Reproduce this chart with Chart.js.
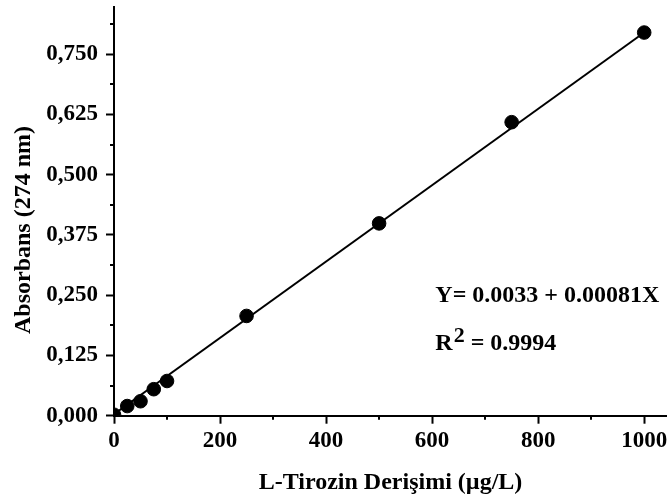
<!DOCTYPE html>
<html>
<head>
<meta charset="utf-8">
<script src="https://cdn.jsdelivr.net/npm/chart.js@4/dist/chart.umd.min.js"></script>
<style>
  html, body { margin: 0; padding: 0; background: #fff; }
  #wrap { width: 667px; height: 497px; }
</style>
</head>
<body>
<div id="wrap"><canvas id="c" width="667" height="497"></canvas></div>
<script>
// Data
const concentrations = [0, 25, 50, 75, 100, 250, 500, 750, 1000];
const absorbances   = [0.002, 0.020, 0.030, 0.055, 0.072, 0.207, 0.399, 0.609, 0.795];
const fitLineX = [0, 1000];
const fitLineY = [0.003, 0.795];
const equationText = "Y= 0.0033 + 0.00081X";
const r2Label = "R";
const r2Sup = "2";
const r2Value = " = 0.9994";
const xTitle = "L-Tirozin Derişimi (µg/L)";
const yTitle = "Absorbans (274 nm)";

const FONT = '"Liberation Serif", "Times New Roman", serif';

const scatterData = concentrations.map((x, i) => ({ x: x, y: absorbances[i] }));
const lineData = fitLineX.map((x, i) => ({ x: x, y: fitLineY[i] }));

function isMultiple(v, step) {
  const r = v / step;
  return Math.abs(r - Math.round(r)) < 1e-6;
}

const extras = {
  id: 'extras',
  afterDraw(chart) {
    const ctx = chart.ctx;
    const xs = chart.scales.x, ys = chart.scales.y;
    ctx.save();
    // minor ticks
    ctx.strokeStyle = '#000';
    ctx.lineWidth = 2;
    ctx.beginPath();
    xs.ticks.forEach(t => {
      if (!isMultiple(t.value, 200)) {
        const px = Math.round(xs.getPixelForValue(t.value));
        ctx.moveTo(px, ys.bottom);
        ctx.lineTo(px, ys.bottom + 4);
      }
    });
    ys.ticks.forEach(t => {
      if (!isMultiple(t.value, 0.125)) {
        const py = Math.round(ys.getPixelForValue(t.value));
        ctx.moveTo(xs.left, py);
        ctx.lineTo(xs.left - 4, py);
      }
    });
    ctx.stroke();

    // y axis title (rotated)
    ctx.fillStyle = '#000';
    ctx.font = 'bold 24px ' + FONT;
    ctx.textAlign = 'center';
    ctx.textBaseline = 'middle';
    ctx.save();
    ctx.translate(24, 230);
    ctx.rotate(-Math.PI / 2);
    ctx.fillText(yTitle, 0, 0);
    ctx.restore();

    // Equation annotation
    const ex = xs.getPixelForValue(606);
    const ey1 = ys.getPixelForValue(0.236);
    const ey2 = ey1 + 48;
    ctx.textBaseline = 'alphabetic';
    ctx.textAlign = 'left';
    ctx.font = 'bold 24px ' + FONT;
    ctx.fillText(equationText, ex, ey1);
    ctx.fillText(r2Label, ex, ey2);
    const rw = ctx.measureText(r2Label).width;
    ctx.font = 'bold 22px ' + FONT;
    ctx.fillText(r2Sup, ex + rw + 1, ey2 - 8);
    const sw = ctx.measureText(r2Sup).width;
    ctx.font = 'bold 24px ' + FONT;
    ctx.fillText(r2Value, ex + rw + 1 + sw, ey2);
    ctx.restore();
  }
};

new Chart(document.getElementById('c'), {
  type: 'scatter',
  data: {
    datasets: [
      {
        type: 'line',
        data: lineData,
        borderColor: '#000',
        borderWidth: 2,
        pointRadius: 0,
        fill: false,
        order: 2
      },
      {
        type: 'scatter',
        data: scatterData,
        backgroundColor: '#000',
        borderColor: '#000',
        pointRadius: 6.8,
        pointHoverRadius: 6.8,
        clip: 0,
        order: 1
      }
    ]
  },
  options: {
    responsive: false,
    animation: false,
    events: [],
    layout: { autoPadding: false, padding: { left: 0, right: 0, top: 7, bottom: 0 } },
    plugins: {
      legend: { display: false },
      tooltip: { enabled: false }
    },
    scales: {
      x: {
        type: 'linear',
        min: 0,
        max: 1043,
        afterFit: s => { s.height = 81.3; s.paddingLeft = 0; s.paddingRight = 0; },
        border: { display: true, color: '#000', width: 2 },
        grid: {
          display: true,
          drawOnChartArea: false,
          drawTicks: true,
          tickLength: 8,
          tickWidth: 2,
          color: ctx => (ctx.tick && isMultiple(ctx.tick.value, 200)) ? '#000' : 'rgba(0,0,0,0)'
        },
        ticks: {
          stepSize: 100,
          includeBounds: false,
          autoSkip: false,
          maxRotation: 0,
          padding: 4,
          color: '#000',
          font: { family: FONT, size: 23, weight: 'bold' },
          callback: v => isMultiple(v, 200) ? String(Math.round(v)) : ''
        },
        title: {
          display: true,
          text: xTitle,
          color: '#000',
          font: { family: FONT, size: 24, weight: 'bold' },
          padding: { top: 0, bottom: 0 }
        }
      },
      y: {
        type: 'linear',
        min: 0,
        max: 0.848,
        afterFit: s => { s.width = 114; s.paddingTop = 0; s.paddingBottom = 0; },
        border: { display: true, color: '#000', width: 2 },
        grid: {
          display: true,
          drawOnChartArea: false,
          drawTicks: true,
          tickLength: 8,
          tickWidth: 2,
          color: ctx => (ctx.tick && isMultiple(ctx.tick.value, 0.125)) ? '#000' : 'rgba(0,0,0,0)'
        },
        ticks: {
          stepSize: 0.0625,
          includeBounds: false,
          autoSkip: false,
          padding: 8,
          color: '#000',
          font: { family: FONT, size: 23, weight: 'bold' },
          callback: v => isMultiple(v, 0.125) ? v.toFixed(3).replace('.', ',') : ''
        },
        title: {
          display: false,
          text: yTitle
        }
      }
    }
  },
  plugins: [extras]
});
</script>
</body>
</html>
